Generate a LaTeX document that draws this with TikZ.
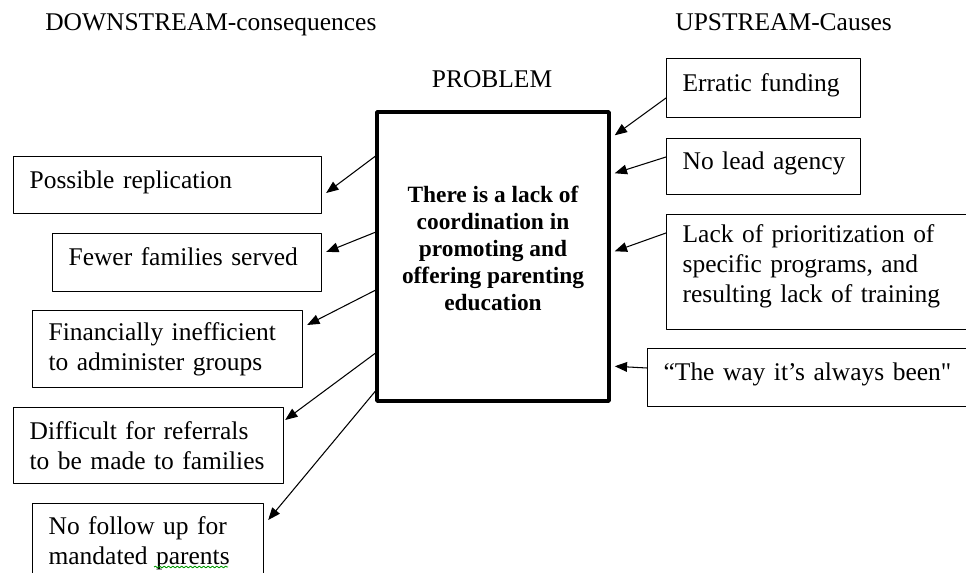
\documentclass[tikz,border=0pt]{standalone}
\usepackage{fontspec}
\setmainfont{Liberation Serif}
\usetikzlibrary{arrows.meta,calc,decorations.pathmorphing}
\tikzset{
  every picture/.style={line join=round, >=Stealth},
  cause/.style={draw, line width=0.7pt, rectangle, anchor=north west, align=left,
    inner xsep=0.32cm, inner ysep=0pt, font=\fontsize{14.5}{17}\selectfont},
  oneline/.style={text depth=6.5pt},
  probbox/.style={draw, line width=2pt, minimum width=4.64cm, minimum height=5.78cm},
  probtext/.style={align=center, inner sep=0pt, font=\fontsize{13.3}{15.3}\selectfont\bfseries},
  head/.style={anchor=base west, inner sep=0pt, font=\fontsize{14.5}{17}\selectfont},
  arr/.style={-{Triangle[length=7pt,width=5.5pt]}, line width=0.6pt},
}

\begin{document}
\begin{tikzpicture}[x=0.02cm,y=-0.02cm]
\clip (0,0) rectangle (966,573);
% headings
\node[head] (down) at (45,31) {DOWNSTREAM-consequences};
\node[head] (up) at (675,31) {UPSTREAM-Causes};
\node[head,anchor=base] (probhead) at (492,88) {PROBLEM};
% the problem
\node[probbox] (prob) at (493,256.5) {};
\node[probtext] (probtxt) at ($(prob.center)+(0,-8)$) {There is a lack of\\coordination in\\promoting and\\offering parenting\\education};
% consequences
\node[cause, oneline, text width=5.52cm, minimum height=1.14cm] (repl) at (13,156) {Possible replication};
\node[cause, oneline, text width=4.74cm, minimum height=1.16cm] (fewer) at (52,233) {Fewer families served};
\node[cause, text width=4.76cm, minimum height=1.54cm] (cost) at (32,310) {Financially inefficient\\to administer groups};
\node[cause, text width=4.76cm, minimum height=1.52cm] (refer) at (13,407) {Difficult for referrals\\to be made to families};
\node[cause, text width=3.98cm, minimum height=1.6cm] (follow) at (32,503) {No follow up for\\mandated parents};
\draw[green!60!black, line width=0.5pt, decorate, decoration={snake, amplitude=0.5pt, segment length=2.5pt}] (154,567) -- (228,567);
% causes
\node[cause, oneline, text width=3.24cm, minimum height=1.18cm] (fund) at (666,58) {Erratic~funding};
\node[cause, oneline, text width=3.24cm, minimum height=1.12cm] (lead) at (666,138) {No~lead~agency};
\node[cause, text depth=43.4pt, text width=5.84cm, minimum height=2.3cm] (prior) at (666,214) {Lack of prioritization of\\specific programs, and\\resulting lack of training};
\node[cause, oneline, text width=6.22cm, minimum height=1.16cm] (habit) at (647,348) {“The way it’s always been{\addfontfeatures{Ligatures=TeXOff}"}};
% arrows
\foreach \dy/\tgt/\tx/\ty in {46/repl/4/37, 122/fewer/4/19, 180/cost/4/15, 243/refer/1/13, 281/follow/4/17}
  \draw[arr] ($(prob.north west)+(0,\dy)$) -- ($(\tgt.north east)+(\tx,\ty)$);
\foreach \src/\sy/\dy in {fund/40/25, lead/19/63, prior/19/141, habit/20/256}
  \draw[arr] ($(\src.north west)+(0,\sy)$) -- ($(prob.north east)+(4,\dy)$);
\end{tikzpicture}
\end{document}
